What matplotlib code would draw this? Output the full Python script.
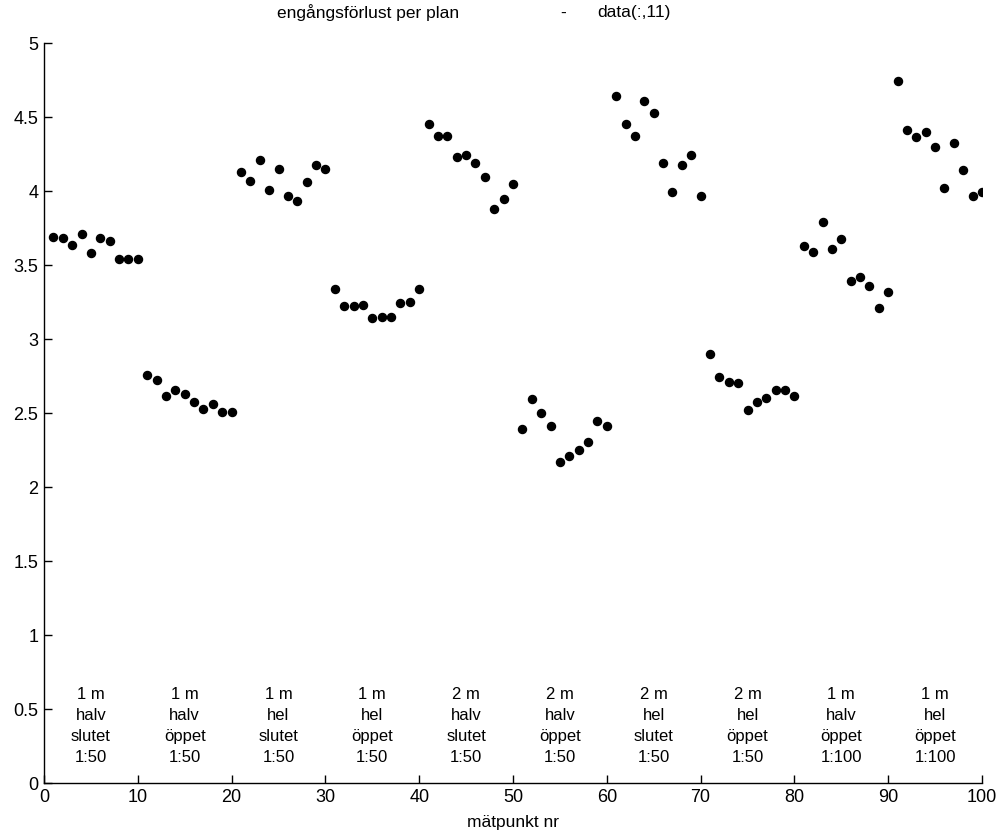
import matplotlib
matplotlib.use("Agg")
import matplotlib.pyplot as plt
import numpy as np

plt.rcParams['font.family'] = ['Liberation Sans', 'DejaVu Sans']

# measurement point numbers and single-pass loss per plane
matpunkt = np.arange(1, 101)
forlust = [
    3.69, 3.68, 3.635, 3.71, 3.58, 3.68, 3.665, 3.54, 3.54, 3.54,
    2.76, 2.72, 2.615, 2.655, 2.626, 2.572, 2.527, 2.561, 2.507, 2.507,
    4.13, 4.07, 4.21, 4.007, 4.146, 3.964, 3.934, 4.06, 4.178, 4.146,
    3.338, 3.22, 3.22, 3.23, 3.14, 3.15, 3.15, 3.24, 3.25, 3.338,
    4.453, 4.37, 4.37, 4.232, 4.243, 4.187, 4.092, 3.878, 3.944, 4.05,
    2.39, 2.593, 2.498, 2.412, 2.169, 2.209, 2.252, 2.306, 2.446, 2.412,
    4.64, 4.455, 4.37, 4.61, 4.53, 4.187, 3.995, 4.176, 4.24, 3.964,
    2.90, 2.743, 2.709, 2.70, 2.518, 2.572, 2.603, 2.655, 2.655, 2.613,
    3.626, 3.59, 3.79, 3.61, 3.676, 3.392, 3.42, 3.358, 3.21, 3.318,
    4.74, 4.41, 4.367, 4.40, 4.30, 4.018, 4.325, 4.145, 3.966, 3.995,
]

# configuration of each block of ten points
grupp_x = [5, 15, 25, 35, 45, 55, 65, 75, 85, 95]
grupp_text = [
    "1 m\nhalv\nslutet\n1:50",
    "1 m\nhalv\nöppet\n1:50",
    "1 m\nhel\nslutet\n1:50",
    "1 m\nhel\nöppet\n1:50",
    "2 m\nhalv\nslutet\n1:50",
    "2 m\nhalv\nöppet\n1:50",
    "2 m\nhel\nslutet\n1:50",
    "2 m\nhel\nöppet\n1:50",
    "1 m\nhalv\nöppet\n1:100",
    "1 m\nhel\nöppet\n1:100",
]

W, H = 1003, 838
fig = plt.figure(figsize=(W / 100, H / 100), dpi=100)
ax = fig.add_axes([44 / W, 1 - 783 / H, (982 - 44) / W, (783 - 43) / H])

ax.plot(matpunkt, forlust, 'o', color='black', markersize=5.8, linestyle='none')

for gx, gt in zip(grupp_x, grupp_text):
    ax.text(gx, 0.385, gt, ha='center', va='center', fontsize=12,
            linespacing=1.5)

ax.set_xlim(0, 100)
ax.set_ylim(0, 5)
ax.set_xticks(np.arange(0, 101, 10))
ax.set_yticks(np.arange(0, 5.01, 0.5))
ax.set_yticklabels(['0', '0.5', '1', '1.5', '2', '2.5', '3', '3.5', '4', '4.5', '5'])
ax.tick_params(direction='in', length=6, labelsize=13, width=1, pad=4)
for s in ['top', 'right']:
    ax.spines[s].set_visible(False)
for s in ['left', 'bottom']:
    ax.spines[s].set_linewidth(1.0)

ax.set_xlabel('mätpunkt nr', fontsize=12.5, labelpad=7)

fig.text(277 / W, 1 - 13 / H, 'engångsförlust per plan', ha='left', va='center', fontsize=12.5)
fig.text(563 / W, 1 - 13 / H, '-', ha='center', va='center', fontsize=12.5)
fig.text(597 / W, 1 - 13 / H, 'data(:,11)', ha='left', va='center', fontsize=12.5)

fig.savefig('out.png', dpi=100)
